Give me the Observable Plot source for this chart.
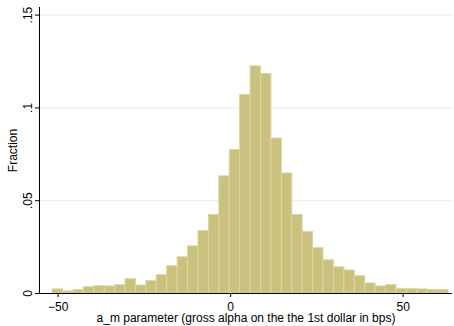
<!DOCTYPE html>
<html>
<head>
<meta charset="utf-8">
<script src="https://cdn.jsdelivr.net/npm/d3@7"></script>
<script src="https://cdn.jsdelivr.net/npm/@observablehq/plot@0.6"></script>
<style>
  body { margin: 0; background: #fff; }
  #chart svg { display: block; }
</style>
</head>
<body>
<div id="chart"></div>
<script>
// Histogram of the a_m parameter: 38 equal-width bins, heights are fractions of funds.
const binStart = -51.6;
const binWidth = 3.02;
const fractions = [
  0.0022, 0.0011, 0.0018, 0.0034, 0.0039, 0.0038, 0.0045, 0.0077, 0.0043, 0.0068,
  0.0099, 0.0147, 0.0195, 0.0254, 0.0337, 0.0423, 0.0631, 0.0774, 0.1070, 0.1224,
  0.1183, 0.0835, 0.0647, 0.0423, 0.0331, 0.0244, 0.0179, 0.0141, 0.0124, 0.0093,
  0.0054, 0.0038, 0.0045, 0.0025, 0.0023, 0.0022, 0.0018, 0.0018
];
const xTicks = [-50, 0, 50];
const yTicks = [0, 0.05, 0.1, 0.15];
const xLabel = "a_m parameter (gross alpha on the the 1st dollar in bps)";
const yLabel = "Fraction";
const xDomain = [-55.4, 64.3];
const yDomain = [0, 0.1541];

const bins = fractions.map((f, i) => ({
  x1: binStart + i * binWidth,
  x2: binStart + (i + 1) * binWidth,
  fraction: f
}));

// Stata-style decimals: ".05" rather than "0.05"
const fmtFraction = d => d === 0 ? "0" : String(d).replace(/^0\./, ".");

const chart = Plot.plot({
  width: 454,
  height: 326,
  marginLeft: 39,
  marginRight: 2,
  marginTop: 7,
  marginBottom: 33,
  style: { fontFamily: "'Liberation Sans', Arial, sans-serif", fontSize: "12px", color: "#000", background: "#fff" },
  x: { domain: xDomain },
  y: { domain: yDomain },
  marks: [
    Plot.gridY(yTicks.filter(d => d > 0), { stroke: "#e4eef0", strokeOpacity: 1, strokeWidth: 1 }),
    Plot.rectY(bins, {
      x1: "x1", x2: "x2", y: "fraction",
      fill: "#c9c17e", stroke: "#dcd6a4", strokeWidth: 1
    }),
    Plot.axisX({
      ticks: xTicks, tickSize: 4, tickPadding: 5,
      label: xLabel, labelAnchor: "center", labelArrow: "none", labelOffset: 28
    }),
    // y ticks and title; the rotated tick labels are drawn separately below
    Plot.axisY({
      ticks: yTicks, tickSize: 4, text: null,
      label: yLabel, labelAnchor: "center", labelArrow: "none", labelOffset: 31
    }),
    Plot.text(yTicks, {
      y: d => d, frameAnchor: "left", text: fmtFraction,
      rotate: -90, textAnchor: "middle", lineAnchor: "middle", dx: -11
    }),
    Plot.ruleY([0], { stroke: "#000" }),
    Plot.ruleX([xDomain[0]], { stroke: "#000" })
  ]
});

document.getElementById("chart").append(chart);
</script>
</body>
</html>
